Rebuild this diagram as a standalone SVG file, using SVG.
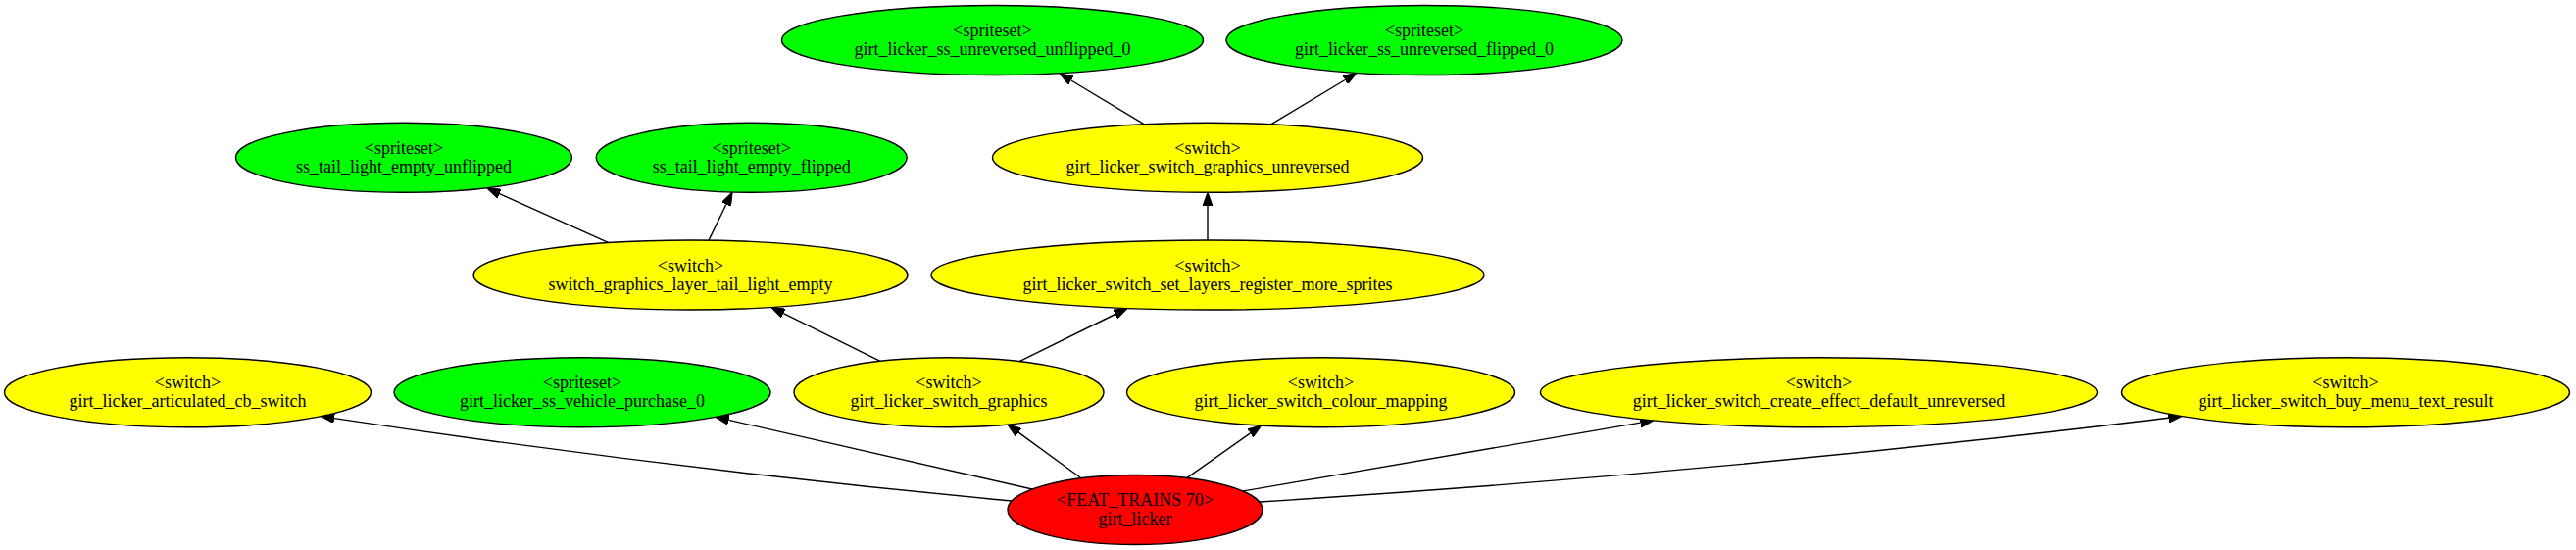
<svg xmlns="http://www.w3.org/2000/svg" width="2628" height="561" viewBox="0 0 2628 561">
<defs>
<style>
.n ellipse{stroke:#000;stroke-width:1.4}
.g{fill:#00ff00}
.y{fill:#ffff00}
.r{fill:#ff0000}
text{font-family:"Liberation Serif","Times New Roman",serif;font-size:18px;text-anchor:middle;fill:#000}
.e path{fill:none;stroke:#000;stroke-width:1.4;marker-end:url(#ah)}
</style>
<marker id="ah" markerUnits="userSpaceOnUse" markerWidth="14" markerHeight="10" viewBox="0 0 14 10" refX="0" refY="5" orient="auto">
<path d="M0,0 L14,5 L0,10 z" fill="#000" stroke="#000" stroke-width="1"/>
</marker>
</defs>
<rect width="2628" height="561" fill="#fff"/>
<g id="edges" class="e">
<path d="M1167.5,126.8 L1092.8,82"/>
<path d="M1296.6,126.8 L1372.2,81.5"/>
<path d="M621,247.6 L509.5,197.6"/>
<path d="M723,245.1 L741,208.3"/>
<path d="M1232,245 L1232,210"/>
<path d="M898,368.4 L799.3,319.6"/>
<path d="M1040,368.6 L1137.7,320.5"/>
<path d="M1032,511 Q678.5,477.7 341,426.6"/>
<path d="M1053,499 L743.4,428.4"/>
<path d="M1103,487.8 L1039.1,441.1"/>
<path d="M1211,487.4 L1275.5,441.9"/>
<path d="M1268,501 L1673.5,431.1"/>
<path d="M1285,512 Q1756.8,482.2 2212.4,426.2"/>
</g>
<g id="n_unflipped0" class="n"><ellipse class="g" cx="1012.5" cy="41" rx="215" ry="35.5"/><text x="1012.5" y="37">&lt;spriteset&gt;</text><text x="1012.5" y="56">girt_licker_ss_unreversed_unflipped_0</text></g>
<g id="n_flipped0" class="n"><ellipse class="g" cx="1453" cy="41" rx="202" ry="35.5"/><text x="1453" y="37">&lt;spriteset&gt;</text><text x="1453" y="56">girt_licker_ss_unreversed_flipped_0</text></g>
<g id="n_tail_unflipped" class="n"><ellipse class="g" cx="412" cy="160.75" rx="171.5" ry="35.5"/><text x="412" y="156.75">&lt;spriteset&gt;</text><text x="412" y="175.75">ss_tail_light_empty_unflipped</text></g>
<g id="n_tail_flipped" class="n"><ellipse class="g" cx="766.7" cy="160.75" rx="158.5" ry="35.5"/><text x="766.7" y="156.75">&lt;spriteset&gt;</text><text x="766.7" y="175.75">ss_tail_light_empty_flipped</text></g>
<g id="n_graphics_unreversed" class="n"><ellipse class="y" cx="1232" cy="160.75" rx="219.5" ry="35.5"/><text x="1232" y="156.75">&lt;switch&gt;</text><text x="1232" y="175.75">girt_licker_switch_graphics_unreversed</text></g>
<g id="n_layer_tail" class="n"><ellipse class="y" cx="704.5" cy="280.5" rx="221.5" ry="35.5"/><text x="704.5" y="276.5">&lt;switch&gt;</text><text x="704.5" y="295.5">switch_graphics_layer_tail_light_empty</text></g>
<g id="n_set_layers" class="n"><ellipse class="y" cx="1232" cy="280.5" rx="282" ry="35.5"/><text x="1232" y="276.5">&lt;switch&gt;</text><text x="1232" y="295.5">girt_licker_switch_set_layers_register_more_sprites</text></g>
<g id="n_articulated" class="n"><ellipse class="y" cx="191.5" cy="400.25" rx="187" ry="35.5"/><text x="191.5" y="396.25">&lt;switch&gt;</text><text x="191.5" y="415.25">girt_licker_articulated_cb_switch</text></g>
<g id="n_vehicle_purchase" class="n"><ellipse class="g" cx="594" cy="400.25" rx="192" ry="35.5"/><text x="594" y="396.25">&lt;spriteset&gt;</text><text x="594" y="415.25">girt_licker_ss_vehicle_purchase_0</text></g>
<g id="n_switch_graphics" class="n"><ellipse class="y" cx="968" cy="400.25" rx="158" ry="35.5"/><text x="968" y="396.25">&lt;switch&gt;</text><text x="968" y="415.25">girt_licker_switch_graphics</text></g>
<g id="n_colour_mapping" class="n"><ellipse class="y" cx="1347.5" cy="400.25" rx="198" ry="35.5"/><text x="1347.5" y="396.25">&lt;switch&gt;</text><text x="1347.5" y="415.25">girt_licker_switch_colour_mapping</text></g>
<g id="n_create_effect" class="n"><ellipse class="y" cx="1855.5" cy="400.25" rx="284" ry="35.5"/><text x="1855.5" y="396.25">&lt;switch&gt;</text><text x="1855.5" y="415.25">girt_licker_switch_create_effect_default_unreversed</text></g>
<g id="n_buy_menu" class="n"><ellipse class="y" cx="2393" cy="400.25" rx="228.5" ry="35.5"/><text x="2393" y="396.25">&lt;switch&gt;</text><text x="2393" y="415.25">girt_licker_switch_buy_menu_text_result</text></g>
<g id="n_root" class="n"><ellipse class="r" cx="1158" cy="520" rx="130" ry="35.5"/><text x="1158" y="516">&lt;FEAT_TRAINS 70&gt;</text><text x="1158" y="535">girt_licker</text></g>
</svg>
